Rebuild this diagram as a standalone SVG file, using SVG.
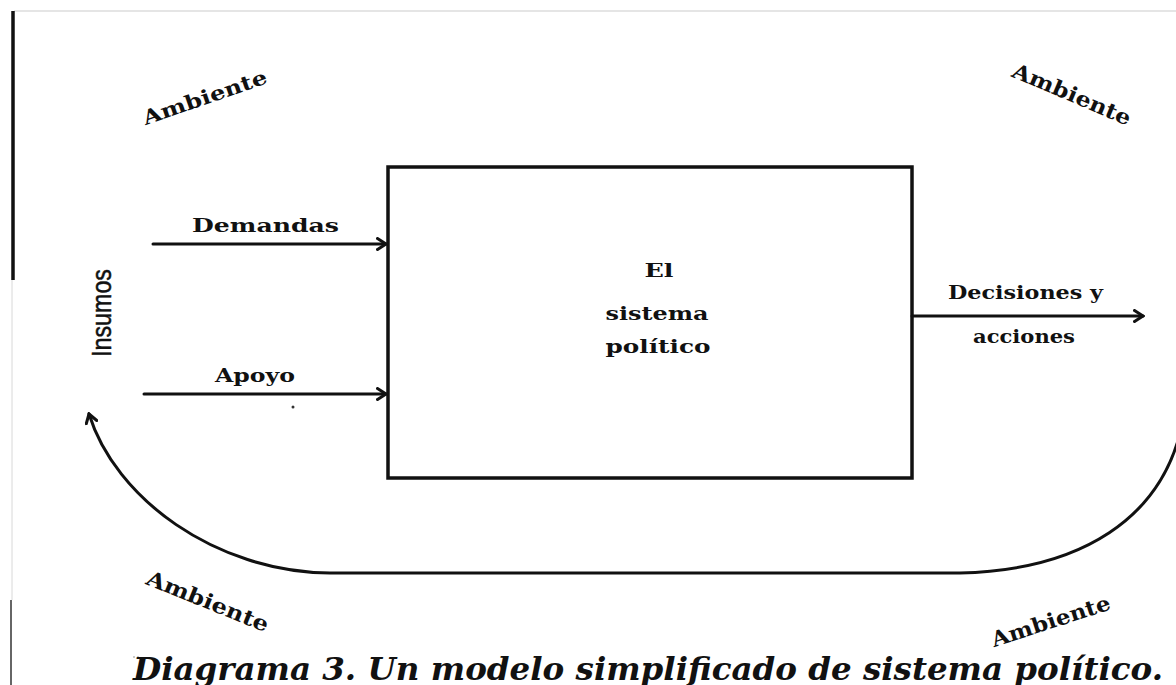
<svg xmlns="http://www.w3.org/2000/svg" width="1176" height="685" viewBox="0 0 1176 685">
<style>
.lbl{font-family:"DejaVu Serif","Liberation Serif",serif;font-weight:bold;font-size:19px;fill:#111}
.amb{font-family:"DejaVu Serif","Liberation Serif",serif;font-weight:bold;font-size:20px;fill:#111}
.ambn{font-family:"DejaVu Serif","Liberation Serif",serif;font-weight:bold;font-size:21px;fill:#111}
.ins{font-family:"Liberation Sans","DejaVu Sans",sans-serif;font-size:27px;fill:#111;stroke:#111;stroke-width:0.5}
.cap{font-family:"DejaVu Serif","Liberation Serif",serif;font-weight:bold;font-style:italic;font-size:31px;fill:#111}
.ln{fill:none;stroke:#111;stroke-width:3;stroke-linecap:round}
</style>
<defs>
<marker id="arr" viewBox="0 0 12 14" refX="10" refY="7" markerWidth="12" markerHeight="14" markerUnits="userSpaceOnUse" orient="auto">
<path d="M1.5,1.5 L10,7 L1.5,12.5" fill="none" stroke="#111" stroke-width="3" stroke-linecap="round" stroke-linejoin="miter"/>
</marker>
</defs>
<rect width="1176" height="685" fill="#fff"/>
<g id="frame">
<line x1="14" y1="11" x2="1176" y2="11" stroke="#dcdcdc" stroke-width="1.5"/>
<line x1="13" y1="11" x2="13" y2="280" stroke="#111" stroke-width="3.5"/>
<line x1="12" y1="280" x2="12" y2="600" stroke="#d8d8d8" stroke-width="1"/>
<line x1="11" y1="600" x2="11" y2="685" stroke="#333" stroke-width="1.5"/>
<circle cx="293" cy="407" r="1.5" fill="#333"/>
<circle cx="134" cy="657" r="0.8" fill="#888"/>
<circle cx="138" cy="657" r="0.8" fill="#888"/>
</g>
<g id="sistema">
<rect x="388" y="167" width="524" height="311" fill="none" stroke="#111" stroke-width="3.5"/>
<text class="lbl" x="659" y="277" text-anchor="middle" textLength="29" lengthAdjust="spacingAndGlyphs">El</text>
<text class="lbl" x="657" y="320" text-anchor="middle" textLength="103" lengthAdjust="spacingAndGlyphs">sistema</text>
<text class="lbl" x="658" y="353" text-anchor="middle" textLength="105" lengthAdjust="spacingAndGlyphs">político</text>
</g>
<g id="connectors">
<line class="ln" x1="153" y1="244" x2="386" y2="244" marker-end="url(#arr)"/>
<line class="ln" x1="144" y1="394" x2="386" y2="394" marker-end="url(#arr)"/>
<line class="ln" x1="912" y1="316" x2="1143" y2="316" marker-end="url(#arr)"/>
<path class="ln" stroke-width="3.5" d="M1182,425 C1162,518 1082,570 960,573 L330,573 C215,572 115,498 89,414" marker-end="url(#arr)"/>
</g>
<g id="insumos">
<text class="lbl" x="192" y="232" textLength="147" lengthAdjust="spacingAndGlyphs">Demandas</text>
<text class="lbl" x="215" y="382" textLength="80" lengthAdjust="spacingAndGlyphs">Apoyo</text>
<text class="ins" transform="translate(111,313) rotate(-90)" text-anchor="middle" textLength="88" lengthAdjust="spacingAndGlyphs">Insumos</text>
</g>
<g id="productos">
<text class="lbl" x="948" y="299" textLength="155" lengthAdjust="spacingAndGlyphs">Decisiones y</text>
<text class="lbl" x="973" y="343" textLength="102" lengthAdjust="spacingAndGlyphs">acciones</text>
</g>
<g id="ambiente">
<text class="amb" transform="translate(207,104) rotate(-19)" text-anchor="middle" textLength="130" lengthAdjust="spacingAndGlyphs">Ambiente</text>
<text class="ambn" transform="translate(1069,101) rotate(23)" text-anchor="middle" textLength="127" lengthAdjust="spacingAndGlyphs">Ambiente</text>
<text class="ambn" transform="translate(205,608) rotate(22)" text-anchor="middle" textLength="130" lengthAdjust="spacingAndGlyphs">Ambiente</text>
<text class="ambn" transform="translate(1053,628) rotate(-18)" text-anchor="middle" textLength="124" lengthAdjust="spacingAndGlyphs">Ambiente</text>
</g>
<g id="caption">
<text class="cap" x="133" y="680" textLength="1030" lengthAdjust="spacingAndGlyphs">Diagrama 3. Un modelo simplificado de sistema político.</text>
</g>
</svg>
